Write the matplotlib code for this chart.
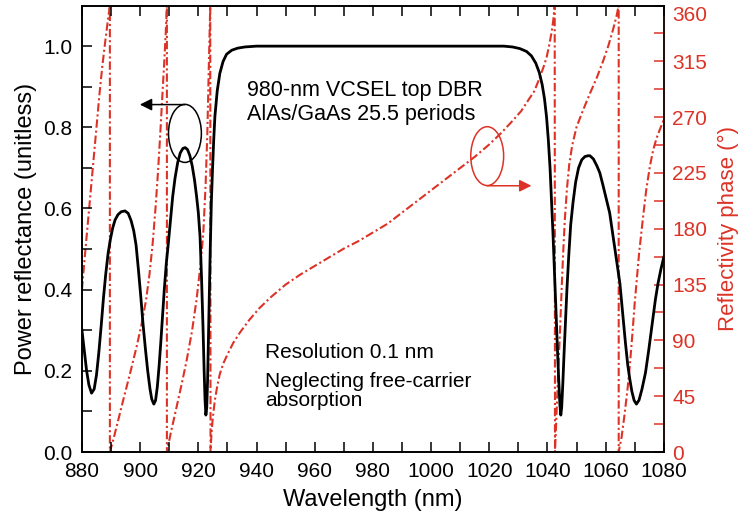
import numpy as np
import matplotlib
matplotlib.use("Agg")
import matplotlib.pyplot as plt
from matplotlib.patches import Ellipse
from matplotlib.ticker import MultipleLocator, FixedLocator, FormatStrFormatter

plt.rcParams['font.family'] = ['Liberation Sans', 'DejaVu Sans']

# Power reflectance
wl_r = [880.0, 880.8, 881.6, 882.4, 883.3, 884.2, 885.0, 885.8, 886.6, 887.4,
        888.2, 889.0, 889.8, 890.6, 891.4, 892.4, 893.5, 894.8, 895.9, 896.9,
        897.8, 898.6, 899.4, 900.2, 901.0, 901.8, 902.6, 903.4, 904.0, 904.7,
        905.3, 905.9, 906.5, 907.1, 907.7, 908.3, 909.0, 909.7, 910.4, 911.2,
        912.0, 912.9, 913.8, 914.7, 915.5, 916.3, 917.1, 917.9, 918.7, 919.4,
        920.0, 920.6, 921.1, 921.6, 922.0, 922.3, 922.6, 922.9, 923.2, 923.5,
        923.8, 924.1, 924.5, 924.9, 925.3, 925.7, 926.5, 927.4, 928.5, 929.7,
        931.5, 933.5, 936.0, 940.0, 1025.0, 1028.0, 1030.5, 1032.8, 1034.5, 1036.0,
        1037.2, 1038.2, 1039.0, 1039.7, 1040.3, 1040.9, 1041.4, 1041.9, 1042.4, 1042.9,
        1043.4, 1043.9, 1044.3, 1044.6, 1044.9, 1045.3, 1045.7, 1046.2, 1046.7, 1047.3,
        1048.0, 1048.8, 1049.7, 1050.7, 1051.8, 1052.9, 1054.0, 1054.6, 1055.8, 1057.0,
        1058.0, 1059.0, 1060.2, 1061.4, 1062.6, 1063.8, 1064.9, 1065.9, 1066.8, 1067.6,
        1068.3, 1069.0, 1069.8, 1070.6, 1071.5, 1072.5, 1073.7, 1074.8, 1076.0, 1077.1,
        1078.0, 1079.0, 1080.0]
refl = [0.30, 0.25, 0.20, 0.165, 0.145, 0.155, 0.19, 0.245, 0.31, 0.38,
        0.44, 0.49, 0.525, 0.553, 0.572, 0.585, 0.592, 0.594, 0.588, 0.57,
        0.545, 0.51, 0.45, 0.385, 0.315, 0.255, 0.20, 0.155, 0.13, 0.118,
        0.127, 0.16, 0.21, 0.27, 0.335, 0.40, 0.465, 0.515, 0.57, 0.63,
        0.675, 0.713, 0.737, 0.748, 0.75, 0.745, 0.73, 0.705, 0.67, 0.63,
        0.59, 0.53, 0.43, 0.31, 0.20, 0.13, 0.091, 0.11, 0.18, 0.29,
        0.40, 0.50, 0.62, 0.70, 0.77, 0.827, 0.89, 0.933, 0.962, 0.98,
        0.99, 0.995, 0.998, 1.0, 1.0, 0.998, 0.994, 0.987, 0.976, 0.958,
        0.935, 0.905, 0.87, 0.825, 0.77, 0.70, 0.62, 0.54, 0.45, 0.355,
        0.26, 0.175, 0.115, 0.091, 0.11, 0.17, 0.24, 0.32, 0.40, 0.48,
        0.56, 0.615, 0.665, 0.700, 0.720, 0.728, 0.730, 0.730, 0.722, 0.705,
        0.688, 0.66, 0.625, 0.589, 0.53, 0.47, 0.416, 0.34, 0.27, 0.215,
        0.18, 0.15, 0.127, 0.118, 0.128, 0.155, 0.195, 0.25, 0.315, 0.375,
        0.415, 0.45, 0.48]

# Reflectivity phase in degrees (wraps kept as vertical jumps)
wl_p = [880.0, 881.0, 882.0, 883.0, 884.0, 885.0, 886.0, 887.0, 888.0, 888.8, 889.6,
        889.6, 891.0, 892.5, 894.2, 896.5, 898.8, 900.5, 902.0, 903.2, 904.3, 905.3,
        906.2, 907.0, 907.7, 908.3, 908.8, 909.2,
        909.2, 910.5, 912.5, 914.3, 916.0, 917.8, 919.4, 920.7, 921.7, 922.5, 923.1,
        923.6, 924.1,
        924.2, 924.5, 925.0, 925.7, 926.5, 927.4, 928.7, 930.3, 932.0, 934.5, 937.7,
        941.0, 945.0, 950.0, 955.0, 960.0, 965.0, 970.0, 975.0, 980.0, 985.0, 990.0,
        995.0, 1000.0, 1005.0, 1010.0, 1015.0, 1020.0, 1024.0, 1028.0, 1031.0, 1033.5,
        1035.5, 1037.2, 1038.6, 1039.7, 1040.6, 1041.4, 1042.0, 1042.5,
        1042.6, 1043.2, 1043.7, 1044.3, 1044.9, 1045.4, 1046.0, 1046.7, 1047.5, 1048.5,
        1050.0, 1052.3, 1054.6, 1057.0, 1059.1, 1061.0, 1062.6, 1063.7, 1064.5,
        1064.5, 1065.5, 1066.5, 1067.5, 1068.3, 1069.2, 1070.0, 1070.6, 1071.5, 1072.9,
        1074.0, 1075.2, 1076.3, 1077.5, 1078.8, 1080.0]
phase = [131, 158, 184, 210, 236, 262, 288, 311, 331, 346, 360,
         0, 12, 26, 42, 63, 85, 103, 122, 143, 168, 197,
         228, 260, 290, 315, 338, 360,
         0, 15, 36, 55, 74, 97, 123, 150, 176, 215, 257,
         310, 360,
         0, 14, 28, 42, 53, 63, 72, 80, 88, 97, 107,
         116, 125, 135, 143, 150, 157, 164, 170, 177, 184, 193,
         202, 211, 220, 229, 238, 248, 257, 267, 275, 284,
         291, 301, 310, 318, 328, 338, 348, 360,
         0, 35, 65, 96, 132, 160, 188, 212, 232, 247,
         262, 276, 289, 302, 315, 328, 341, 351, 360,
         0, 12, 30, 50, 69, 95, 120, 136, 160, 190,
         212, 230, 243, 253, 261, 268]

red = '#DD3327'

fig = plt.figure(figsize=(7.45, 5.24), dpi=100)
ax = fig.add_axes([0.110, 0.1374, 0.781, 0.852])
ax2 = ax.twinx()

ax2.plot(wl_p, phase, color=red, lw=1.5, linestyle=(0, (4.0, 1.4, 1.0, 1.4)))
ax.plot(wl_r, refl, color='black', lw=2.0)
ax.set_zorder(ax2.get_zorder() + 1)
ax.patch.set_visible(False)

ax.set_xlim(880, 1080)
ax.set_ylim(0, 1.1)
ax2.set_ylim(0, 360)

ax.xaxis.set_major_locator(MultipleLocator(20))
ax.xaxis.set_minor_locator(MultipleLocator(10))
ax.yaxis.set_major_locator(FixedLocator([0, 0.2, 0.4, 0.6, 0.8, 1.0]))
ax.yaxis.set_minor_locator(FixedLocator([0.1, 0.3, 0.5, 0.7, 0.9]))
ax.yaxis.set_major_formatter(FormatStrFormatter('%.1f'))
ax2.yaxis.set_major_locator(FixedLocator([0, 45, 90, 135, 180, 225, 270, 315, 360]))
ax2.yaxis.set_minor_locator(MultipleLocator(22.5))

ax.tick_params(which='both', direction='in', length=7, width=1.1, top=True, labelsize=15)
ax.tick_params(axis='x', pad=7)
ax.tick_params(axis='y', pad=7)
ax2.tick_params(which='both', direction='in', length=7, width=1.1, colors=red,
                labelsize=15, pad=6)
for s in ax.spines.values():
    s.set_linewidth(1.2)
for s in ax2.spines.values():
    s.set_linewidth(1.2)
ax2.spines['right'].set_color(red)

ax2.yaxis.get_major_ticks()[-1].label2.set_verticalalignment('top')

ax.set_xlabel('Wavelength (nm)', fontsize=17, labelpad=6)
ax.set_ylabel('Power reflectance (unitless)', fontsize=17, labelpad=4)
ax2.set_ylabel('Reflectivity phase (°)', fontsize=16, color=red, labelpad=8)

# annotations
ax.add_patch(Ellipse((915.4, 0.785), 11.3, 0.143, fill=False, ec='black', lw=1.1))
ax.annotate('', xy=(899.9, 0.856), xytext=(915.4, 0.856),
            arrowprops=dict(arrowstyle='-|>', color='black', lw=1.1, mutation_scale=18,
                            shrinkA=0, shrinkB=0))
ax.add_patch(Ellipse((1019.3, 0.729), 11.3, 0.145, fill=False, ec=red, lw=1.1))
ax.annotate('', xy=(1034.5, 0.656), xytext=(1019.3, 0.656),
            arrowprops=dict(arrowstyle='-|>', color=red, lw=1.1, mutation_scale=18,
                            shrinkA=0, shrinkB=0))

ax.text(936.8, 0.891, '980-nm VCSEL top DBR', fontsize=15.5, va='center')
ax.text(936.8, 0.831, 'AlAs/GaAs 25.5 periods', fontsize=15.5, va='center')
ax.text(942.9, 0.245, 'Resolution 0.1 nm', fontsize=15, va='center')
ax.text(942.9, 0.173, 'Neglecting free-carrier', fontsize=15, va='center')
ax.text(942.9, 0.126, 'absorption', fontsize=15, va='center')

fig.savefig('out.png', dpi=100)
